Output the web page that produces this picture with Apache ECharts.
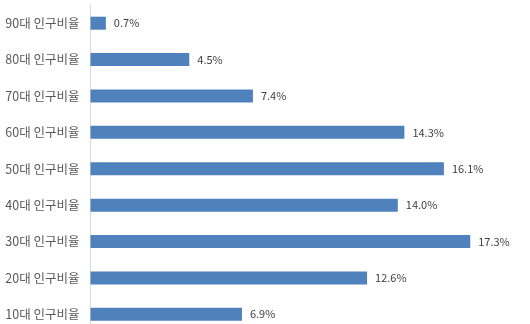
<!DOCTYPE html>
<html>
<head>
<meta charset="utf-8">
<script src="https://cdn.jsdelivr.net/npm/echarts@6/dist/echarts.min.js"></script>
<style>
  html, body { margin: 0; padding: 0; background: #fff; }
  #chart { width: 530px; height: 324px; }
</style>
</head>
<body>
<div id="chart"></div>
<script>
// Age groups, bottom to top
const categories = ['10대 인구비율', '20대 인구비율', '30대 인구비율', '40대 인구비율', '50대 인구비율', '60대 인구비율', '70대 인구비율', '80대 인구비율', '90대 인구비율'];
// Share of population per age group (%)
const shares = [6.9, 12.6, 17.3, 14.0, 16.1, 14.3, 7.4, 4.5, 0.7];

const chart = echarts.init(document.getElementById('chart'), null, { renderer: 'canvas' });
const font = '"Noto Sans CJK KR", "Noto Sans", sans-serif';

chart.setOption({
  animation: false,
  backgroundColor: '#ffffff',
  grid: {
    left: 90.5, top: 5, width: 439, height: 327.5,
    containLabel: false,
    outerBoundsMode: 'none'
  },
  xAxis: {
    type: 'value',
    min: 0,
    max: 20,
    show: false
  },
  yAxis: {
    type: 'category',
    data: categories,
    axisLine: { show: true, lineStyle: { color: '#d9d9d9', width: 1 } },
    axisTick: { show: false },
    axisLabel: { color: '#595959', fontSize: 12.5, fontFamily: font, margin: 11 }
  },
  series: [{
    type: 'bar',
    data: shares,
    barWidth: 13,
    itemStyle: { color: '#4f81bd' },
    label: {
      show: true,
      position: 'right',
      distance: 8,
      color: '#404040',
      fontSize: 11,
      fontFamily: font,
      formatter: p => p.value.toFixed(1) + '%'
    }
  }]
});
</script>
</body>
</html>
